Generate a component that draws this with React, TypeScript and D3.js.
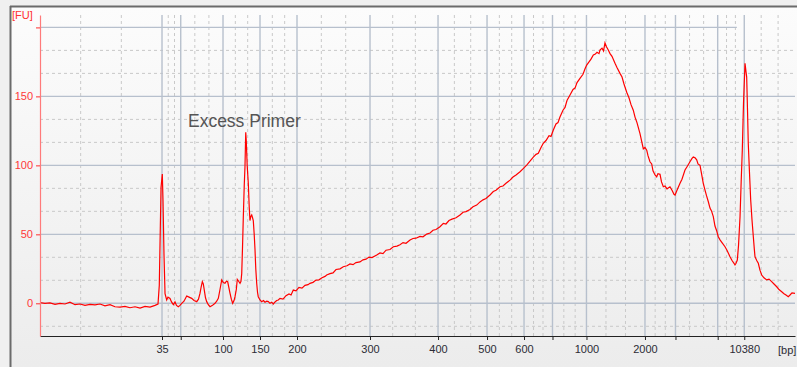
import { useEffect, useRef } from "react";
import * as d3 from "d3";

// ladder sizes and their migration times (s)
const ladderBp = [35, 50, 100, 150, 200, 300, 400, 500, 600, 700, 1000, 2000, 3000, 7000, 10380];
const ladderTime = [36.16, 38.64, 44.24, 49.14, 54.04, 63.71, 72.72, 79.21, 84.11, 87.88, 92.38, 100.13, 104.17, 109.76, 113.28];
const labeledBp = [35, 100, 150, 200, 300, 400, 500, 600, 1000, 2000, 10380];

const yTicks = [0, 50, 100, 150, 200];
const yTickLabels = ["0", "50", "100", "150", ""];

// electropherogram trace: migration time (s) and fluorescence (FU)
const traceTime = [
  20.0, 20.66, 21.32, 21.99, 22.65, 23.31, 23.97, 24.64, 25.3, 25.96, 26.62, 27.28, 27.95, 28.61, 29.27, 29.93,
  30.6, 31.26, 31.92, 32.58, 33.25, 33.91, 34.57, 35.23, 35.63, 35.8, 36.03, 36.2, 36.29, 36.42, 36.56, 36.78,
  36.95, 37.22, 37.42, 37.66, 37.88, 38.08, 38.32, 38.54, 38.77, 39.07, 39.43, 39.74, 40.09, 40.4, 40.76, 40.99,
  41.19, 41.35, 41.5, 41.63, 41.76, 41.92, 42.08, 42.29, 42.52, 42.85, 43.18, 43.4, 43.62, 43.84, 44.07, 44.28,
  44.5, 44.69, 44.86, 45.03, 45.17, 45.34, 45.52, 45.7, 45.83, 46.0, 46.13, 46.31, 46.49, 46.62, 46.72, 46.82,
  46.93, 47.05, 47.15, 47.25, 47.32, 47.44, 47.59, 47.71, 47.81, 47.92, 48.04, 48.15, 48.25, 48.37, 48.48, 48.58,
  48.7, 48.81, 48.91, 49.14, 49.36, 49.6, 49.8, 50.03, 50.24, 50.46, 50.69, 50.9, 51.13, 51.35, 51.56, 51.79,
  52.19, 52.58, 52.98, 53.25, 53.55, 53.91, 54.3, 54.7, 55.1, 55.5, 55.76, 56.16, 56.56, 56.95, 57.35, 57.75,
  57.97, 58.41, 58.81, 59.21, 59.74, 60.17, 60.66, 61.06, 61.46, 61.85, 62.38, 62.78, 63.18, 63.58, 63.97, 64.6,
  65.03, 65.43, 65.83, 66.36, 66.8, 67.28, 67.68, 68.08, 68.48, 69.01, 69.4, 69.8, 70.33, 70.73, 71.22, 71.66,
  72.05, 72.45, 72.98, 73.42, 73.77, 74.17, 74.57, 75.1, 75.63, 76.03, 76.42, 76.95, 77.35, 77.84, 78.28, 78.68,
  79.07, 79.6, 80.04, 80.4, 80.93, 81.32, 81.72, 82.25, 82.65, 83.05, 83.58, 83.97, 84.46, 84.9, 85.34, 85.7,
  86.0, 86.36, 86.66, 87.02, 87.42, 87.68, 87.99, 88.34, 88.61, 88.87, 89.27, 89.54, 89.8, 90.2, 90.6, 90.86,
  91.13, 91.52, 91.92, 92.19, 92.41, 92.72, 92.98, 93.29, 93.51, 93.78, 94.04, 94.17, 94.44, 94.64, 94.83, 95.03,
  95.27, 95.5, 95.76, 96.16, 96.42, 96.82, 97.09, 97.35, 97.71, 98.01, 98.28, 98.58, 98.81, 99.07, 99.47, 99.91,
  100.13, 100.36, 100.53, 100.79, 101.02, 101.19, 101.46, 101.68, 101.85, 102.12, 102.32, 102.56, 102.78, 103.05, 103.44, 103.71,
  103.97, 104.11, 104.37, 104.77, 105.03, 105.43, 105.7, 106.09, 106.36, 106.53, 106.76, 106.98, 107.15, 107.42, 107.62, 107.85,
  108.08, 108.28, 108.52, 108.74, 108.94, 109.18, 109.4, 109.6, 109.84, 110.07, 110.33, 110.73, 110.99, 111.39, 111.66, 111.92,
  112.05, 112.19, 112.36, 112.52, 112.72, 112.87, 113.02, 113.18, 113.38, 113.51, 113.6, 113.71, 113.81, 113.97, 114.13, 114.31,
  114.48, 114.6, 114.7, 114.93, 115.14, 115.36, 115.59, 115.89, 116.25, 116.56, 116.91, 117.22, 117.58, 117.88, 118.24, 118.54,
  118.81, 119.11, 119.34, 119.6, 120.0,
];
const traceFU = [
  0.5, 0, 0.3, -0.8, 0, -0.5, 0.8, -1, -0.5, -1.5, -0.8, -1.2, -0.5, -1.8, -1, -2.5,
  -2.8, -2.2, -3.2, -2.5, -3.5, -2.3, -2.8, -1.5, -0.5, 13, 84, 93.7, 75, 36, 7, 2.4,
  4.5, 3.5, 1, -1, 1, -1.5, -2.5, -1.5, 0, 1.5, 5.3, 4.5, 3.6, 2, 1.2, 3,
  7.2, 12, 15.7, 14, 9.6, 4, 1.2, -1, -2.5, -1.5, 0, 1.5, 3.6, 10, 17, 15,
  14.5, 16, 15.6, 11, 7.2, 3, 0, 2, 4.8, 10, 17.4, 16, 14.5, 16, 21.7, 40,
  62.8, 85, 99, 124, 118, 100, 87, 70, 60, 63, 64, 62, 60, 50, 38.6, 25,
  14.5, 8, 4.8, 2.4, 1.2, 2, 0.8, 1.5, 1.2, 0, 0.8, -0.5, 1, 2, 2.4, 3.6,
  3, 5.5, 6.8, 6, 9.6, 9, 11.5, 11, 13, 13.5, 14.5, 15.2, 16.8, 17, 18.5, 19.5,
  20.5, 21.5, 22, 24.5, 25, 26.5, 27.2, 28.5, 28, 29.5, 30, 31.5, 32, 33.5, 33.2, 35,
  36.5, 36, 38.5, 39, 41, 41.5, 42.5, 44, 43.5, 45.9, 47, 47.2, 48.5, 48.2, 50.2, 51,
  53, 53.5, 55.5, 58, 57.5, 60, 61, 62, 64, 66, 66.5, 68, 70, 71.2, 73.5, 75,
  76, 78.5, 81, 82, 84.5, 85, 87, 89.3, 91.5, 93, 95.4, 97.5, 100.2, 103, 106, 108,
  108.7, 113, 116, 118, 121.5, 121, 125.6, 130, 131, 135, 140, 142, 147, 151, 155, 156,
  160, 163, 166, 170, 172.7, 175, 177, 180, 180.5, 182, 181, 183.6, 185, 183, 188.8, 186,
  183.6, 181, 179, 174, 171, 166.7, 164, 159, 153, 149, 144, 140, 135, 131, 123, 112,
  113, 111, 107, 102.6, 101, 96, 93, 91.7, 94, 93.5, 88, 84.5, 85, 83, 84.5, 82,
  79, 78.5, 82, 87, 90, 96.6, 99, 102.6, 105, 106, 105.5, 104, 101, 100, 94, 87,
  82, 78, 73.6, 69, 67, 62.8, 56, 53, 48.3, 46, 44, 41, 38.5, 33.8, 31, 29,
  27.8, 29, 31.4, 42, 62.8, 88, 111, 145, 174, 168, 164, 140, 116, 95, 75, 60,
  48.3, 40, 33.8, 31, 29, 24, 20.5, 18.5, 17, 17.5, 15.7, 14, 12, 10, 8.4, 7,
  6, 4.8, 6, 7.5, 7.2,
];

const annotation = { text: "Excess Primer", time: 39.6, fu: 128 };

export default function App() {
  const ref = useRef<SVGSVGElement>(null);

  useEffect(() => {
    if (!ref.current) return;
    const svg = d3.select(ref.current);
    svg.selectAll("*").remove();

    const width = 797;
    const height = 367;
    const plot = { left: 40, right: 795, top: 15, bottom: 336 };
    const font = "'Liberation Sans', Arial, sans-serif";

    svg.attr("width", width).attr("height", height);

    const x = d3.scaleLinear().domain([20, 120]).range([plot.left, plot.right]);
    const y = d3.scaleLinear().domain([-23.7, 209]).range([plot.bottom, plot.top]);

    // background
    const grad = svg.append("defs").append("linearGradient").attr("id", "bg").attr("x1", 0).attr("y1", 0).attr("x2", 0).attr("y2", 1);
    grad.append("stop").attr("offset", "0%").attr("stop-color", "#fcfcfc");
    grad.append("stop").attr("offset", "100%").attr("stop-color", "#ececec");
    svg.append("rect").attr("width", width).attr("height", height).attr("fill", "#f0f0f0");
    svg.append("rect").attr("x", 11).attr("y", 7).attr("width", width - 11).attr("height", height - 7).attr("fill", "url(#bg)");
    svg.append("line").attr("x1", 10).attr("x2", width).attr("y1", 6.5).attr("y2", 6.5).attr("stroke", "#6b6b6b").attr("stroke-width", 2);
    svg.append("line").attr("x1", 10.5).attr("x2", 10.5).attr("y1", 6).attr("y2", height).attr("stroke", "#6b6b6b").attr("stroke-width", 2);

    const grid = svg.append("g");

    // dashed vertical lines at thirds between ladder positions
    const bounds = [20, ...ladderTime, 120];
    const minorX: number[] = [];
    for (let i = 0; i < bounds.length - 1; i++) {
      const step = (bounds[i + 1] - bounds[i]) / 3;
      minorX.push(bounds[i] + step, bounds[i] + 2 * step);
    }
    grid.selectAll(".vminor").data(minorX).join("line")
      .attr("x1", (d) => x(d)).attr("x2", (d) => x(d))
      .attr("y1", plot.top).attr("y2", plot.bottom)
      .attr("stroke", "#c9c9c9").attr("stroke-dasharray", "3,3");

    // dashed horizontal lines
    const minorY: number[] = [];
    for (let v = -50; v < 200; v += 50) minorY.push(v + 50 / 3, v + 100 / 3);
    grid.selectAll(".hminor").data(minorY.filter((v) => y(v) < plot.bottom && y(v) > plot.top)).join("line")
      .attr("x1", plot.left).attr("x2", plot.right)
      .attr("y1", (d) => y(d)).attr("y2", (d) => y(d))
      .attr("stroke", "#c9c9c9").attr("stroke-dasharray", "3,3");

    // solid grid
    grid.selectAll(".hmajor").data(yTicks).join("line")
      .attr("x1", plot.left).attr("x2", (d) => (d === 200 ? x(112.3) : plot.right))
      .attr("y1", (d) => y(d)).attr("y2", (d) => y(d))
      .attr("stroke", "#b7c0cd").attr("stroke-width", 1.4);
    grid.selectAll(".vmajor").data(ladderTime).join("line")
      .attr("x1", (d) => x(d)).attr("x2", (d) => x(d))
      .attr("y1", plot.top).attr("y2", plot.bottom)
      .attr("stroke", "#b7c0cd").attr("stroke-width", 1.4);

    // trace
    const pts = traceTime.map((t, i) => [t, traceFU[i]] as [number, number]);
    svg.append("path")
      .datum(pts)
      .attr("fill", "none")
      .attr("stroke", "#ff0000")
      .attr("stroke-width", 1.2)
      .attr("d", d3.line<[number, number]>().x((d) => x(d[0])).y((d) => y(d[1])));

    // x axis
    const xAxis = svg.append("g")
      .attr("transform", `translate(0,${plot.bottom})`)
      .call(
        d3.axisBottom(x)
          .tickValues(ladderTime)
          .tickSize(4)
          .tickSizeOuter(0)
          .tickPadding(5)
          .tickFormat((_, i) => (labeledBp.includes(ladderBp[i]) ? String(ladderBp[i]) : ""))
      );
    xAxis.select(".domain").attr("stroke", "#222").attr("stroke-width", 1.2);
    xAxis.selectAll("line").attr("stroke", "#222");
    xAxis.selectAll("text").attr("fill", "#2b2b35").style("font-family", font).style("font-size", "11px");

    // y axis
    const yAxis = svg.append("g")
      .attr("transform", `translate(${plot.left},0)`)
      .call(
        d3.axisLeft(y)
          .tickValues(yTicks)
          .tickSize(4)
          .tickSizeOuter(0)
          .tickPadding(3)
          .tickFormat((_, i) => yTickLabels[i])
      );
    yAxis.select(".domain").attr("stroke", "#ff7a7a").attr("stroke-width", 1.2);
    yAxis.selectAll("line").attr("stroke", "#ff3030");
    yAxis.selectAll("text").attr("fill", "#ff3838").style("font-family", font).style("font-size", "11px");

    svg.append("text")
      .attr("x", 12).attr("y", 19)
      .attr("fill", "#ff3030")
      .style("font-family", font).style("font-size", "11px")
      .text("[FU]");

    svg.append("text")
      .attr("x", 778).attr("y", 354)
      .attr("fill", "#2b2b35")
      .style("font-family", font).style("font-size", "11px")
      .text("[bp]");

    svg.append("text")
      .attr("x", x(annotation.time)).attr("y", y(annotation.fu))
      .attr("fill", "#555")
      .style("font-family", font).style("font-size", "17.5px")
      .text(annotation.text);
  }, []);

  return <svg ref={ref} style={{ position: "absolute", left: 0, top: 0 }}></svg>;
}
